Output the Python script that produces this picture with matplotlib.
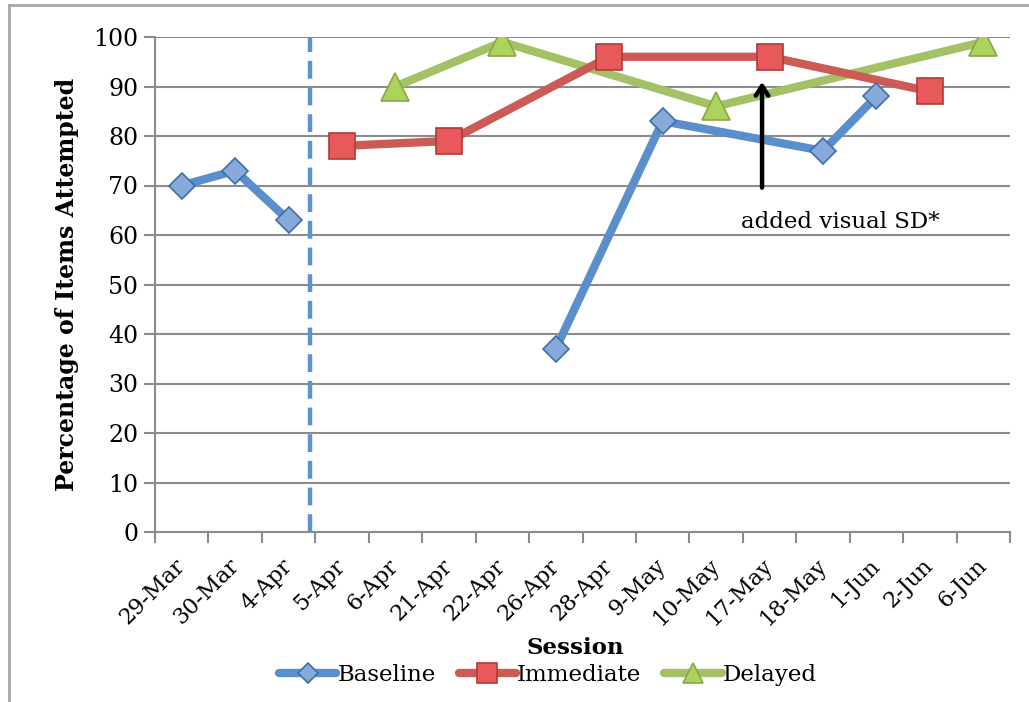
import numpy as np
import matplotlib
matplotlib.use("Agg")
import matplotlib.pyplot as plt
from matplotlib.lines import Line2D

plt.rcParams['font.family'] = ['DejaVu Serif']

# Dados do gráfico
sessions = ["29-Mar", "30-Mar", "4-Apr", "5-Apr", "6-Apr", "21-Apr", "22-Apr", "26-Apr",
            "28-Apr", "9-May", "10-May", "17-May", "18-May", "1-Jun", "2-Jun", "6-Jun"]
baseline = [70, 73, 63, None, None, None, None, 37, None, 83, None, None, 77, 88, None, None]
immediate = [None, None, None, 78, None, 79, None, None, 96, None, None, 96, None, None, 89, None]
delayed = [None, None, None, None, 90, None, 99, None, None, None, 86, None, None, None, None, 99]
phase_change = 3  # primeira sessão depois da linha tracejada
sd_session = "17-May"
sd_label = "added visual SD*"

BLUE = "#4F81BD"
RED = "#C0504D"
GREEN = "#9BBB59"


def points(values, start=0, stop=None):
    stop = len(values) if stop is None else stop
    xs = [i for i in range(start, stop) if values[i] is not None]
    ys = [values[i] for i in xs]
    return xs, ys


fig = plt.figure(figsize=(10.29, 7.02), dpi=100)
ax = fig.add_axes([155 / 1029, 1 - 532 / 702, 855 / 1029, 495 / 702])

blue_style = dict(color="#5A8FCB", lw=6, marker="D", ms=13.5, mfc="#86AADA", mec="#3F6FA8", mew=1.2,
                  solid_capstyle="round", zorder=4)
red_style = dict(color="#CD5B55", lw=6, marker="s", ms=19, mfc="#E8595B", mec="#B03A37", mew=1.2,
                 solid_capstyle="round", zorder=3)
green_style = dict(color="#A3C265", lw=6, marker="^", ms=20, mfc="#AED25E", mec="#86A845", mew=1.2,
                   solid_capstyle="round", zorder=2)

# Baseline em duas partes (antes e depois da mudança de fase)
x, y = points(baseline, 0, phase_change)
ax.plot(x, y, **blue_style)
x, y = points(baseline, phase_change)
ax.plot(x, y, **blue_style)
x, y = points(immediate)
ax.plot(x, y, **red_style)
x, y = points(delayed)
ax.plot(x, y, **green_style)

# Linha tracejada da mudança de fase
ax.plot([phase_change - 0.6, phase_change - 0.6], [0, 100], color="#5B93CF", lw=3.2,
        dashes=(4, 2), zorder=5, clip_on=False)

# Seta indicando o suporte visual
sd_x = sessions.index(sd_session) - 0.14
ax.annotate("", xy=(sd_x, 91.5), xytext=(sd_x, 69),
            arrowprops=dict(arrowstyle="->,head_length=0.7,head_width=0.45", color="black", lw=3.2),
            zorder=6)
ax.text(12.32, 62.6, sd_label, ha="center", va="center", fontsize=16.5)

# Eixos
ax.set_xlim(-0.5, len(sessions) - 0.5)
ax.set_ylim(0, 100)
ax.set_yticks(range(0, 101, 10))
ax.set_xticks(range(len(sessions)))
ax.set_xticklabels(sessions, rotation=45, ha="right", va="center", rotation_mode="anchor",
                   fontsize=16)
ax.set_xticks(np.arange(-0.5, len(sessions), 1), minor=True)
ax.tick_params(axis="x", which="major", length=0, pad=22)
ax.tick_params(axis="x", which="minor", length=8, width=1.5, color="#8C8C8C")
ax.tick_params(axis="y", length=8, width=1.5, color="#8C8C8C", labelsize=17, pad=4)
ax.grid(axis="y", color="#8C8C8C", lw=1.5)
ax.set_axisbelow(True)
for side in ["top", "right"]:
    ax.spines[side].set_visible(False)
for side in ["left", "bottom"]:
    ax.spines[side].set_color("#8C8C8C")
    ax.spines[side].set_linewidth(1.5)
ax.set_ylabel("Percentage of Items Attempted", fontsize=17, fontweight="bold", labelpad=10)

fig.text(575 / 1029, 1 - 648 / 702, "Session", ha="center", va="center", fontsize=16.5,
         fontweight="bold")

# Legenda
handles = [Line2D([], [], **blue_style), Line2D([], [], **red_style), Line2D([], [], **green_style)]
for h in handles:
    h.set_markersize(h.get_markersize() * 0.75)
fig.legend(handles, ["Baseline", "Immediate", "Delayed"], loc="center", ncol=3, frameon=False,
           bbox_to_anchor=(548 / 1029, 1 - 675 / 702), fontsize=16.5, handlelength=2.5,
           handletextpad=0.05, columnspacing=1.0)

# Borda da área do gráfico
fig.add_artist(Line2D([9 / 1029, 9 / 1029], [0, 1 - 5 / 702], color="#A6A6A6", lw=2,
                      transform=fig.transFigure))
fig.add_artist(Line2D([9 / 1029, 1], [1 - 5 / 702, 1 - 5 / 702], color="#A6A6A6", lw=2,
                      transform=fig.transFigure))

fig.savefig("out.png", dpi=100)
